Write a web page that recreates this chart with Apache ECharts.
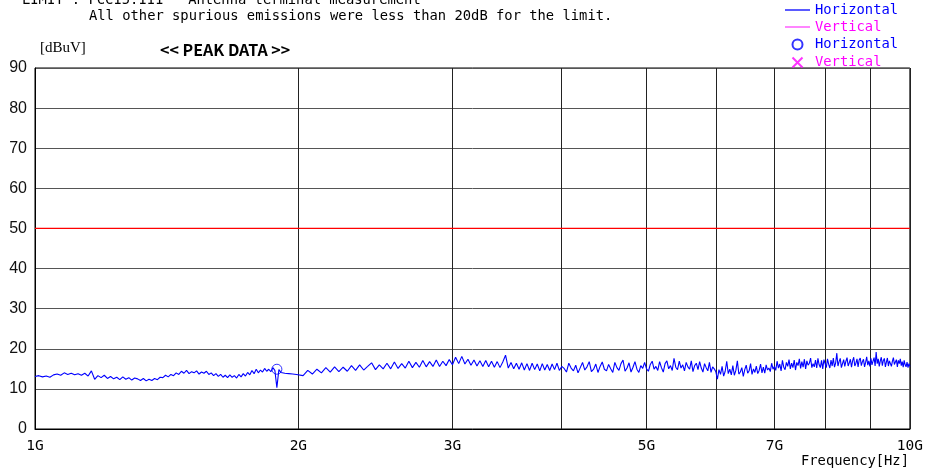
<!DOCTYPE html>
<html>
<head>
<meta charset="utf-8">
<title>PEAK DATA</title>
<script src="https://cdn.jsdelivr.net/npm/echarts@6/dist/echarts.min.js"></script>
<style>
  html, body { margin: 0; padding: 0; background: #fff; }
  #chart { width: 926px; height: 473px; }
</style>
</head>
<body>
<div id="chart"></div>
<script>
// sweep points, frequency in GHz
var freqGHz = [
  1.00,1.01,1.02,1.03,1.04,1.05,1.06,1.07,1.08,1.09,
  1.10,1.11,1.12,1.13,1.14,1.15,1.16,1.17,1.18,1.19,
  1.20,1.21,1.22,1.23,1.24,1.25,1.26,1.27,1.28,1.29,
  1.30,1.31,1.32,1.33,1.34,1.35,1.36,1.37,1.38,1.39,
  1.40,1.41,1.42,1.43,1.44,1.45,1.46,1.47,1.48,1.49,
  1.50,1.51,1.52,1.53,1.54,1.55,1.56,1.57,1.58,1.59,
  1.60,1.61,1.62,1.63,1.64,1.65,1.66,1.67,1.68,1.69,
  1.70,1.71,1.72,1.73,1.74,1.75,1.76,1.77,1.78,1.79,
  1.80,1.81,1.82,1.83,1.84,1.85,1.86,1.87,1.88,1.89,
  1.90,1.91,1.92,1.93,1.94,1.95,1.96,1.97,1.98,1.99,
  2.00,
  2.025,2.05,2.075,2.10,2.125,2.15,2.175,2.20,2.225,2.25,
  2.275,2.30,2.325,2.35,2.375,2.40,2.425,2.45,2.475,2.50,
  2.525,2.55,2.575,2.60,2.625,2.65,2.675,2.70,2.725,2.75,
  2.775,2.80,2.825,2.85,2.875,2.90,2.925,2.95,2.975,3.00,
  3.025,3.05,3.075,3.10,3.125,3.15,3.175,3.20,3.225,3.25,
  3.275,3.30,3.325,3.35,3.375,3.40,3.425,3.45,3.475,3.50,
  3.525,3.55,3.575,3.60,3.625,3.65,3.675,3.70,3.725,3.75,
  3.775,3.80,3.825,3.85,3.875,3.90,3.925,3.95,3.975,4.00,
  4.025,4.05,4.075,4.10,4.125,4.15,4.175,4.20,4.225,4.25,
  4.275,4.30,4.325,4.35,4.375,4.40,4.425,4.45,4.475,4.50,
  4.525,4.55,4.575,4.60,4.625,4.65,4.675,4.70,4.725,4.75,
  4.775,4.80,4.825,4.85,4.875,4.90,4.925,4.95,4.975,5.00,
  5.025,5.05,5.075,5.10,5.125,5.15,5.175,5.20,5.225,5.25,
  5.275,5.30,5.325,5.35,5.375,5.40,5.425,5.45,5.475,5.50,
  5.525,5.55,5.575,5.60,5.625,5.65,5.675,5.70,5.725,5.75,
  5.775,5.80,5.825,5.85,5.875,5.90,5.925,5.95,5.975,6.00,
  6.025,6.05,6.075,6.10,6.125,6.15,6.175,6.20,6.225,6.25,
  6.275,6.30,6.325,6.35,6.375,6.40,6.425,6.45,6.475,6.50,
  6.525,6.55,6.575,6.60,6.625,6.65,6.675,6.70,6.725,6.75,
  6.775,6.80,6.825,6.85,6.875,6.90,6.925,6.95,6.975,7.00,
  7.025,7.05,7.075,7.10,7.125,7.15,7.175,7.20,7.225,7.25,
  7.275,7.30,7.325,7.35,7.375,7.40,7.425,7.45,7.475,7.50,
  7.525,7.55,7.575,7.60,7.625,7.65,7.675,7.70,7.725,7.75,
  7.775,7.80,7.825,7.85,7.875,7.90,7.925,7.95,7.975,8.00,
  8.025,8.05,8.075,8.10,8.125,8.15,8.175,8.20,8.225,8.25,
  8.275,8.30,8.325,8.35,8.375,8.40,8.425,8.45,8.475,8.50,
  8.525,8.55,8.575,8.60,8.625,8.65,8.675,8.70,8.725,8.75,
  8.775,8.80,8.825,8.85,8.875,8.90,8.925,8.95,8.975,9.00,
  9.025,9.05,9.075,9.10,9.125,9.15,9.175,9.20,9.225,9.25,
  9.275,9.30,9.325,9.35,9.375,9.40,9.425,9.45,9.475,9.50,
  9.525,9.55,9.575,9.60,9.625,9.65,9.675,9.70,9.725,9.75,
  9.775,9.80,9.825,9.85,9.875,9.90,9.925,9.95,9.975,10.00
]
// horizontal polarization level, dBuV
var levelH = [
  13.1,13.3,13.0,13.2,12.9,13.5,13.7,13.4,14.0,13.6,
  13.9,13.5,13.8,13.4,13.9,13.2,14.5,12.4,13.3,12.8,
  13.4,12.6,13.1,12.5,12.9,12.3,13.0,12.4,12.8,12.2,
  12.7,12.5,12.1,12.6,12.0,12.4,12.1,12.6,12.3,12.9,
  12.8,13.4,13.0,13.6,13.3,14.0,13.6,14.4,13.9,14.6,
  13.8,14.3,14.0,14.5,13.7,14.2,13.9,14.4,13.6,14.0,
  13.3,13.8,13.1,13.6,12.9,13.4,12.8,13.5,12.9,13.3,
  12.7,13.6,13.0,13.8,13.2,14.1,13.5,14.6,13.8,14.9,
  14.0,14.7,14.2,15.1,14.4,14.9,14.3,15.3,14.6,10.3,
  14.8,14.1,14.5,13.9,14.3,13.8,14.2,13.7,14.1,13.6,
  14.0,
  13.3,14.6,13.7,14.9,14.0,15.3,14.2,15.5,14.3,15.4,
  14.4,15.8,14.6,16.0,14.7,15.6,16.5,14.8,16.0,15.0,
  16.4,15.0,16.7,15.1,16.3,15.2,16.9,15.3,16.6,15.4,
  17.1,15.5,16.8,15.6,17.2,15.6,16.9,15.8,17.3,16.0,
  17.9,16.3,18.1,16.2,17.4,15.9,17.2,15.7,17.0,15.6,
  17.1,15.5,16.9,15.4,16.8,15.3,16.7,18.4,15.2,16.6,
  15.0,16.4,14.9,16.5,14.7,16.3,14.6,16.4,14.8,16.2,
  14.5,16.3,14.7,16.1,14.6,16.2,14.8,16.4,14.6,15.6,
  15.1,14.2,16.4,15.2,14.5,15.9,14.0,15.3,16.6,14.7,
  15.5,16.8,14.3,14.9,16.2,14.1,15.6,16.7,14.9,14.5,
  16.1,15.0,14.1,16.6,15.3,14.6,16.3,17.2,14.4,15.2,
  16.5,14.2,15.4,16.8,14.9,14.1,15.8,15.1,16.6,15.0,
  14.4,16.1,16.9,14.9,15.6,14.6,16.8,15.3,14.2,16.3,
  17.0,15.0,15.8,14.6,17.6,15.4,14.8,16.9,15.2,16.0,
  14.5,16.6,15.5,14.9,17.0,14.3,15.8,16.4,14.8,16.8,
  15.2,14.2,16.3,15.3,14.5,16.6,14.1,15.5,15.0,14.3,
  12.4,14.8,13.6,15.6,13.2,14.4,16.9,13.8,14.9,13.5,
  15.8,13.4,14.6,17.0,13.7,14.2,15.3,13.1,14.8,15.9,
  13.9,14.5,16.3,13.6,15.0,14.1,15.7,13.8,14.6,16.2,
  14.0,15.4,13.9,16.0,14.7,15.2,14.3,16.4,14.9,15.6,
  14.6,16.9,15.2,16.2,14.5,17.1,15.4,14.8,16.6,15.6,
  17.3,15.0,16.4,15.3,17.2,14.7,16.6,15.8,17.5,15.1,
  16.8,15.4,17.4,15.0,17.0,15.9,16.4,17.7,15.3,16.3,
  15.5,17.2,15.2,17.6,16.0,15.3,17.1,15.0,17.3,16.3,
  15.3,17.5,16.1,15.2,17.2,15.7,17.7,15.4,16.5,18.9,
  15.7,16.8,17.6,15.3,16.3,17.3,15.6,16.9,17.8,15.7,
  16.5,17.4,15.4,17.0,17.9,15.7,16.4,17.5,15.5,17.2,
  17.7,15.8,16.8,17.4,15.5,16.6,18.0,15.9,17.0,15.6,
  17.6,16.0,16.9,17.8,15.7,19.2,16.3,17.5,15.6,17.0,
  17.9,15.8,17.1,17.6,15.5,16.7,17.7,15.7,17.0,17.4,
  15.6,16.9,17.8,16.1,16.5,17.3,15.5,17.1,16.3,17.5,
  15.8,16.8,15.4,17.1,16.0,15.5,16.7,15.3,16.3,15.6
]
// peak marker (horizontal)
var peakFreqH = [1.89]
var peakLevelH = [14.9]
// limit
var limitFreq = [1, 10]
var limitLevel = [50, 50]
// axis ticks
var gridFreqs = [1, 2, 3, 4, 5, 6, 7, 8, 9, 10]
var labelFreqs = [1, 2, 3, 5, 7, 10]

var legendText = {
  hLine: 'Horizontal',
  vLine: 'Vertical',
  hPeak: 'Horizontal',
  vPeak: 'Vertical'
}

var mono = 'DejaVu Sans Mono'
var barIcon = 'path://M0,0L25,0L25,1.3L0,1.3Z'

function pts(f, v) {
  return f.map(function (x, i) { return [Math.log10(x), v[i]] })
}
function logs(arr) {
  return arr.map(function (x) { return Math.log10(x) })
}

var chart = echarts.init(document.getElementById('chart'))
chart.setOption({
  animation: false,
  backgroundColor: '#fff',
  title: [
    {
      text: 'LIMIT : FCC15.111   Antenna terminal measurement',
      left: 22, top: -7, padding: 0,
      textStyle: { fontFamily: mono, fontSize: 13.8, fontWeight: 'normal', color: '#000' }
    },
    {
      text: 'All other spurious emissions were less than 20dB for the limit.',
      left: 89, top: 9, padding: 0,
      textStyle: { fontFamily: mono, fontSize: 13.8, fontWeight: 'normal', color: '#000' }
    },
    {
      text: '<< PEAK DATA >>',
      left: 160, top: 42, padding: 0,
      textStyle: { fontFamily: 'Noto Sans CJK JP', fontSize: 16, fontWeight: 'bold', color: '#000' }
    },
    {
      text: '[dBuV]',
      left: 40, top: 41, padding: 0,
      textStyle: { fontFamily: 'Liberation Serif', fontSize: 15, fontWeight: 'normal', color: '#000' }
    },
    {
      text: 'Frequency[Hz]',
      left: 801, top: 454, padding: 0,
      textStyle: { fontFamily: mono, fontSize: 13.8, fontWeight: 'normal', color: '#000' }
    }
  ],
  legend: {
    orient: 'vertical',
    left: 785, top: 3, padding: 0,
    itemWidth: 25, itemHeight: 10, itemGap: 3,
    formatter: function (name) { return legendText[name] },
    textStyle: { fontFamily: mono, fontSize: 13.8, lineHeight: 14 },
    data: [
      { name: 'hLine', icon: barIcon, textStyle: { color: '#0000ff' } },
      { name: 'vLine', icon: barIcon, textStyle: { color: '#ff00ff' } },
      { name: 'hPeak', textStyle: { color: '#0000ff' } },
      { name: 'vPeak', textStyle: { color: '#ff00ff' } }
    ]
  },
  grid: {
    left: 35, right: 15, top: 68, bottom: 44,
    show: true, borderColor: '#000', borderWidth: 1
  },
  xAxis: {
    type: 'value', min: 0, max: 1,
    axisLine: { show: true, lineStyle: { color: '#000' } },
    axisTick: { show: false, customValues: logs(gridFreqs) },
    axisLabel: {
      customValues: logs(labelFreqs),
      margin: 10,
      fontFamily: mono, fontSize: 14.5, color: '#000',
      formatter: function (v) { return Math.round(Math.pow(10, v)) + 'G' }
    },
    splitLine: { show: true, lineStyle: { color: '#222', width: 1 } }
  },
  yAxis: {
    type: 'value', min: 0, max: 90, interval: 10,
    axisLine: { show: true, lineStyle: { color: '#000' } },
    axisTick: { show: false },
    axisLabel: { margin: 8, fontFamily: 'Liberation Sans', fontSize: 16, color: '#111' },
    splitLine: { show: true, lineStyle: { color: '#555', width: 1 } }
  },
  series: [
    {
      name: 'limit', type: 'line', silent: true,
      data: pts(limitFreq, limitLevel),
      symbol: 'none',
      lineStyle: { color: '#ff0000', width: 1.2 },
      z: 3
    },
    {
      name: 'hLine', type: 'line',
      data: pts(freqGHz, levelH),
      symbol: 'none',
      color: '#0000ff',
      lineStyle: { color: '#0000ff', width: 1.1 },
      z: 4
    },
    {
      name: 'vLine', type: 'line',
      data: [],
      symbol: 'none',
      color: '#ff44ff',
      lineStyle: { color: '#ff44ff', width: 1 }
    },
    {
      name: 'hPeak', type: 'scatter',
      data: pts(peakFreqH, peakLevelH),
      symbol: 'circle', symbolSize: 10,
      itemStyle: { color: 'none', borderColor: '#0000ff', borderWidth: 1 },
      z: 5
    },
    {
      name: 'vPeak', type: 'scatter',
      data: [],
      symbol: 'path://M0,0L10,10M10,0L0,10', symbolSize: 10,
      itemStyle: { color: 'none', borderColor: '#ff00ff', borderWidth: 1.2 }
    }
  ]
})
</script>
</body>
</html>
